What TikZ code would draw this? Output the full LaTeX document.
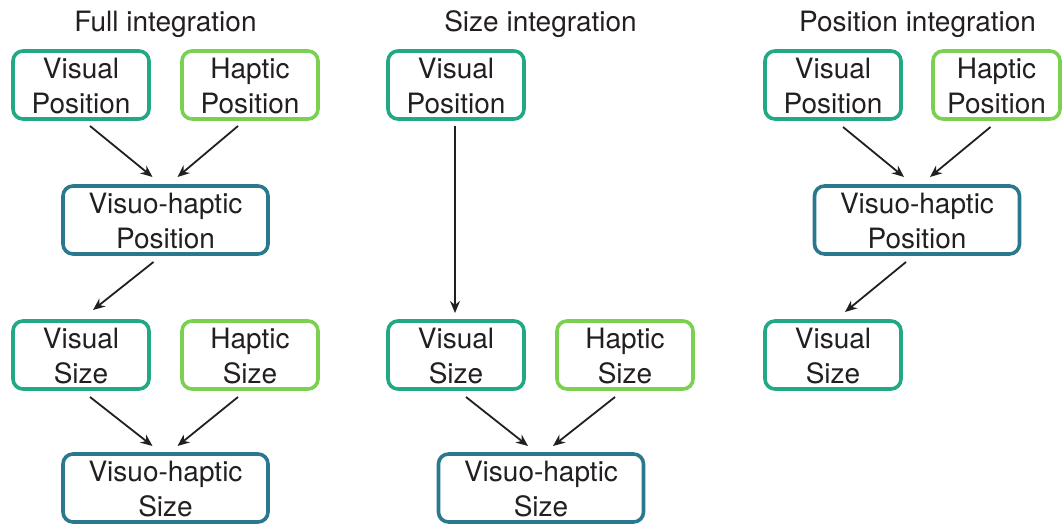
\documentclass[tikz,border=0pt]{standalone}
\usepackage{fontspec}
\setmainfont{TeX Gyre Heros}
\usetikzlibrary{arrows.meta}
\definecolor{visc}{HTML}{22A884}
\definecolor{hapc}{HTML}{7AD151}
\definecolor{vhc}{HTML}{2A788E}
\definecolor{ink}{HTML}{231F20}
\begin{document}
\begin{tikzpicture}[x=1pt,y=-1pt,
  every node/.style={font=\fontsize{28}{35}\selectfont, text=ink, inner sep=0pt, outer sep=0pt},
  boxbase/.style={draw, line width=3.6pt, rounded corners=10pt, align=center, minimum height=68pt, text height=57pt, text depth=0pt},
  visbox/.style={boxbase, draw=visc, minimum width=136pt},
  hapbox/.style={boxbase, draw=hapc, minimum width=136pt},
  vhbox/.style={boxbase, draw=vhc, minimum width=205pt},
  ttl/.style={anchor=base},
  arr/.style={draw=ink, line width=1.8pt, -{Stealth[length=12pt,width=10pt]}}
]
\useasboundingbox (0,0) rectangle (1062,524);
% titles
\node[ttl] (t1) at (165.5,32) {Full integration};
\node[ttl] (t2) at (540.5,32) {Size integration};
\node[ttl] (t3) at (917.5,32) {Position integration};
% column 1
\node[visbox] (vp1) at (81,85) {Visual\\Position};
\node[hapbox] (hp1) at (250,85) {Haptic\\Position};
\node[vhbox] (vhp1) at (165.5,220) {Visuo-haptic\\Position};
\node[visbox] (vs1) at (81,355) {Visual\\Size};
\node[hapbox] (hs1) at (250,355) {Haptic\\Size};
\node[vhbox] (vhs1) at (165.5,488) {Visuo-haptic\\Size};
\draw[arr] ([shift={(9,7)}]vp1.south) -- ([shift={(-13,-9)}]vhp1.north);
\draw[arr] ([shift={(-12,7)}]hp1.south) -- ([shift={(12,-9)}]vhp1.north);
\draw[arr] ([shift={(-12,8)}]vhp1.south) -- ([shift={(12,-11)}]vs1.north);
\draw[arr] ([shift={(9,8)}]vs1.south) -- ([shift={(-13,-8)}]vhs1.north);
\draw[arr] ([shift={(-12,8)}]hs1.south) -- ([shift={(12,-8)}]vhs1.north);
% column 2
\node[visbox] (vp2) at (456,85) {Visual\\Position};
\node[visbox] (vs2) at (456,355) {Visual\\Size};
\node[hapbox] (hs2) at (625,355) {Haptic\\Size};
\node[vhbox] (vhs2) at (541,488) {Visuo-haptic\\Size};
\draw[arr] ([shift={(-1,7)}]vp2.south) -- ([shift={(-1,-8)}]vs2.north);
\draw[arr] ([shift={(10,8)}]vs2.south) -- ([shift={(-13,-8)}]vhs2.north);
\draw[arr] ([shift={(-10,8)}]hs2.south) -- ([shift={(12,-8)}]vhs2.north);
% column 3
\node[visbox] (vp3) at (833,85) {Visual\\Position};
\node[hapbox, minimum width=127pt] (hp3) at (996.5,85) {Haptic\\Position};
\node[vhbox] (vhp3) at (917,220) {Visuo-haptic\\Position};
\node[visbox] (vs3) at (833,355) {Visual\\Size};
\draw[arr] ([shift={(10,8)}]vp3.south) -- ([shift={(-13,-9)}]vhp3.north);
\draw[arr] ([shift={(-6,8)}]hp3.south) -- ([shift={(13,-9)}]vhp3.north);
\draw[arr] ([shift={(-11,8)}]vhp3.south) -- ([shift={(12,-9)}]vs3.north);
\end{tikzpicture}
\end{document}
